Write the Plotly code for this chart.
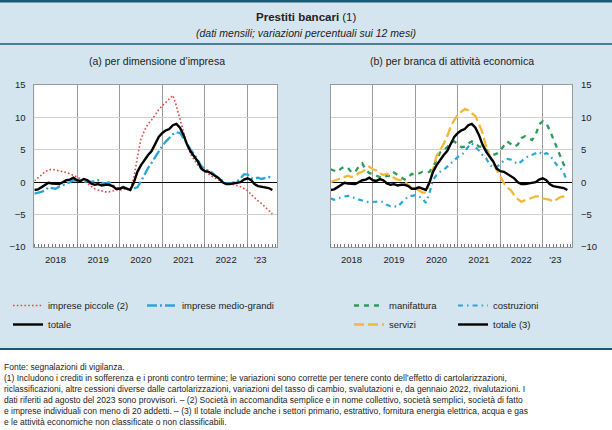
import pandas as pd
import plotly.graph_objects as go

# ---------------- data ----------------
months = pd.date_range("2018-01-01", periods=68, freq="MS")

small_firms = [0.2, 0.6, 1.1, 1.6, 1.9, 2.0, 1.9, 1.8, 1.6, 1.5, 1.3, 1.1,
               0.8, 0.5, 0.2, -0.2, -0.6, -1.0, -1.2, -1.4, -1.5, -1.5, -1.3, -1.2,
               -1.2, -1.1, -1.0, -1.1, 0.6, 3.8, 6.6, 8.0, 9.0, 9.6, 10.5, 11.2,
               11.8, 12.3, 12.8, 13.4, 11.8, 9.8, 7.5, 5.7, 4.3, 3.4, 2.6, 2.0,
               1.6, 1.2, 0.9, 0.6, 0.3, 0.0, -0.2, -0.2, -0.3, -0.5, -0.7, -1.0,
               -1.3, -1.9, -2.4, -2.9, -3.3, -3.8, -4.3, -4.9]

medium_large = [-1.75, -1.65, -1.5, -1.3, -0.8, -0.9, -1.0, -0.7, -0.5, -0.2, 0.0, 0.3,
                0.3, 0.2, 0.05, 0.15, 0.05, 0.2, 0.3, -0.1, -0.2, 0.0, -0.5, -0.8,
                -1.0, -0.7, -1.0, -1.1, -1.0, -0.8, 0.1, 1.2, 2.2, 3.0, 3.9, 4.9,
                5.6, 6.3, 6.9, 7.4, 7.7, 7.6, 6.8, 5.8, 5.0, 4.3, 3.4, 2.5,
                2.0, 1.8, 1.5, 1.0, 0.6, 0.1, -0.2, -0.2, -0.1, 0.1, 0.6, 1.2,
                1.2, 0.6, 0.6, 0.7, 0.5, 0.7, 0.8, 0.7]

total = [-1.2, -1.1, -0.8, -0.5, -0.1, -0.2, -0.3, -0.3, 0.0, 0.3, 0.4, 0.7,
         0.3, 0.2, 0.5, 0.3, -0.2, -0.4, -0.3, -0.5, -0.4, -0.4, -0.6, -1.0,
         -1.0, -0.8, -1.0, -1.2, -0.1, 1.6, 2.6, 3.5, 4.2, 4.8, 5.8, 7.0,
         7.6, 8.0, 8.2, 8.8, 9.0, 8.4, 7.3, 5.8, 4.7, 4.0, 3.2, 2.1,
         1.7, 1.6, 1.3, 1.0, 0.6, 0.0, -0.3, -0.3, -0.2, -0.2, 0.0, 0.4,
         0.6, 0.3, -0.3, -0.6, -0.7, -0.7, -0.9, -1.2]

manufacturing = [2.0, 1.8, 1.6, 2.1, 2.4, 2.2, 1.5, 1.6, 2.4, 2.9, 1.9, 1.4,
                 1.3, 1.0, 0.8, 0.6, 1.0, 0.9, 1.5, 1.1, 0.8, 0.4, 0.8, 1.3,
                 1.1, 1.3, 1.6, 1.5, 1.6, 2.3, 3.4, 4.6, 5.0, 5.4, 6.1, 6.3,
                 5.8, 5.4, 5.5, 6.0, 6.3, 6.0, 5.5, 5.5, 5.0, 4.5, 4.2, 4.4,
                 4.9, 5.6, 6.3, 5.9, 5.5, 5.8, 6.8, 7.1, 6.8, 6.5, 7.3, 8.9,
                 9.4, 9.1, 8.1, 6.8, 5.5, 4.0, 2.7, 2.3]

construction = [-2.5, -2.7, -2.5, -2.3, -2.2, -2.1, -2.2, -2.5, -2.7, -2.9, -3.0, -3.1,
                -3.1, -3.0, -2.9, -3.1, -3.5, -3.7, -3.7, -3.8, -3.2, -2.7, -2.2, -2.1,
                -2.0, -2.2, -2.5, -3.2, -1.7, 0.35, 1.1, 1.6, 1.9, 2.4, 2.9, 3.4,
                3.9, 4.2, 4.7, 5.5, 6.0, 5.4, 4.9, 4.2, 3.7, 2.7, 2.2, 2.3,
                2.9, 3.3, 3.6, 3.5, 3.2, 2.8, 3.2, 3.7, 4.0, 4.2, 4.5, 4.7,
                4.2, 4.5, 4.2, 3.5, 2.7, 2.2, 1.4, 0.1]

services = [0.0, 0.2, 0.4, 0.6, 0.8, 1.0, 0.8, 1.0, 1.4, 1.6, 2.0, 2.4,
            2.0, 1.8, 1.4, 1.1, 1.3, 1.0, 0.6, 0.4, 0.3, 0.1, -0.4, -0.9,
            -0.9, -1.2, -1.6, -1.6, -0.15, 1.9, 4.0, 5.0, 5.9, 7.1, 8.6, 9.6,
            10.4, 10.9, 11.3, 11.1, 10.7, 10.2, 9.0, 7.6, 5.5, 4.0, 2.9, 1.9,
            0.9, -0.15, -0.8, -1.2, -2.0, -2.6, -3.0, -2.8, -2.5, -2.3, -2.2, -2.2,
            -2.5, -2.6, -2.7, -3.0, -2.7, -2.3, -2.2, -2.3]

total_sector = list(total)

year_starts = ["2018-01-01", "2019-01-01", "2020-01-01", "2021-01-01", "2022-01-01", "2023-01-01"]
label_pos = ["2018-07-01", "2019-07-01", "2020-07-01", "2021-07-01", "2022-07-01", "2023-04-20"]
year_labels = ["2018", "2019", "2020", "2021", "2022", "'23"]
y_ticks = [-10, -5, 0, 5, 10, 15]

# ---------------- style ----------------
W, H = 612, 430
FONT = "Liberation Sans, Arial, sans-serif"
BG = "#d5e5ef"
DARK = "#1b5a76"
RED = "#dd4a45"
BLUE = "#2aa5d8"
GREEN = "#2f9b58"
YELLOW = "#f3b835"
GRIDV = "#9a9a9a"
GRIDH = "#cfcfcf"
TXT = "#222222"


def px(x):
    return x / W


def py(y):
    return 1 - y / H


XRANGE = ["2018-01-01", "2023-09-10"]
LEFT_DOM = [px(34.4), px(277)]
RIGHT_DOM = [px(330.5), px(572)]
Y_DOM = [py(247), py(85)]

fig = go.Figure()

# left panel
fig.add_trace(go.Scatter(x=months, y=small_firms, name="imprese piccole (2)", mode="lines",
                         line=dict(color=RED, width=1.6, dash="1.6px,2.2px"),
                         xaxis="x", yaxis="y", legend="legend"))
fig.add_trace(go.Scatter(x=months, y=medium_large, name="imprese medio-grandi", mode="lines",
                         line=dict(color=BLUE, width=2.3, dash="10px,3px,2px,3px"),
                         xaxis="x", yaxis="y", legend="legend2"))
fig.add_trace(go.Scatter(x=months, y=total, name="totale", mode="lines",
                         line=dict(color="black", width=2.4),
                         xaxis="x", yaxis="y", legend="legend"))
fig.add_trace(go.Scatter(x=months, y=total, mode="lines", opacity=0, showlegend=False,
                         hoverinfo="skip", line=dict(width=0), xaxis="x3", yaxis="y"))

# right panel
fig.add_trace(go.Scatter(x=months, y=manufacturing, name="manifattura", mode="lines",
                         line=dict(color=GREEN, width=2.3, dash="5px,5px"),
                         xaxis="x2", yaxis="y2", legend="legend3"))
fig.add_trace(go.Scatter(x=months, y=services, name="servizi", mode="lines",
                         line=dict(color=YELLOW, width=2.3, dash="10px,4px"),
                         xaxis="x2", yaxis="y2", legend="legend3"))
fig.add_trace(go.Scatter(x=months, y=construction, name="costruzioni", mode="lines",
                         line=dict(color=BLUE, width=2.2, dash="5px,4px,1.6px,4px"),
                         xaxis="x2", yaxis="y2", legend="legend4"))
fig.add_trace(go.Scatter(x=months, y=total_sector, name="totale (3)", mode="lines",
                         line=dict(color="black", width=2.4),
                         xaxis="x2", yaxis="y2", legend="legend4"))
fig.add_trace(go.Scatter(x=months, y=total_sector, mode="lines", opacity=0, showlegend=False,
                         hoverinfo="skip", line=dict(width=0), xaxis="x4", yaxis="y2"))

tickfont = dict(family=FONT, size=9.5, color=TXT)


def xbase(domain, anchor):
    return dict(type="date", domain=domain, anchor=anchor, range=XRANGE,
                tickmode="array", tickvals=year_starts, showticklabels=False,
                showgrid=True, gridcolor=GRIDV, gridwidth=1, ticks="",
                showline=True, linecolor=GRIDV, linewidth=1, mirror=True, zeroline=False,
                minor=dict(dtick="M1", tick0="2018-01-01", ticks="inside", ticklen=3,
                           tickcolor="#777777", tickwidth=1, showgrid=False))


def xlabels(domain, anchor, over):
    return dict(type="date", domain=domain, anchor=anchor, overlaying=over, range=XRANGE,
                tickmode="array", tickvals=label_pos, ticktext=year_labels,
                ticks="outside", ticklen=4, tickcolor="rgba(0,0,0,0)",
                showgrid=False, showline=False, zeroline=False, tickfont=tickfont)


def ybase(anchor, side):
    return dict(domain=Y_DOM, anchor=anchor, side=side, range=[-10, 15],
                tickmode="array", tickvals=y_ticks, showgrid=True, gridcolor=GRIDH,
                gridwidth=1, zeroline=True, zerolinecolor="black", zerolinewidth=1.2,
                showline=True, linecolor=GRIDV, linewidth=1, mirror=True,
                ticks="outside", ticklen=6, tickcolor="rgba(0,0,0,0)", tickfont=tickfont)


leg_common = dict(orientation="v", xanchor="left", yanchor="top", bgcolor="rgba(0,0,0,0)",
                  font=dict(family=FONT, size=9.5, color=TXT), tracegroupgap=0,
                  itemwidth=30)

footnote = ("Fonte: segnalazioni di vigilanza.<br>"
            "(1) Includono i crediti in sofferenza e i pronti contro termine; le variazioni sono corrette per tenere conto dell’effetto di cartolarizzazioni,<br>"
            "riclassificazioni, altre cessioni diverse dalle cartolarizzazioni, variazioni del tasso di cambio, svalutazioni e, da gennaio 2022, rivalutazioni. I<br>"
            "dati riferiti ad agosto del 2023 sono provvisori. – (2) Società in accomandita semplice e in nome collettivo, società semplici, società di fatto<br>"
            "e imprese individuali con meno di 20 addetti. – (3) Il totale include anche i settori primario, estrattivo, fornitura energia elettrica, acqua e gas<br>"
            "e le attività economiche non classificate o non classificabili.")

annotations = [
    dict(text="<b>Prestiti bancari</b> (1)", x=0.5, y=py(17.5), font=dict(family=FONT, size=11.5, color=TXT)),
    dict(text="<i>(dati mensili; variazioni percentuali sui 12 mesi)</i>", x=0.5, y=py(32.5),
         font=dict(family=FONT, size=10.5, color=TXT)),
    dict(text="(a) per dimensione d’impresa", x=px(157), y=py(61.5), font=dict(family=FONT, size=10.5, color=TXT)),
    dict(text="(b) per branca di attività economica", x=px(452), y=py(61.5), font=dict(family=FONT, size=10.5, color=TXT)),
    dict(text=footnote, x=px(2), y=py(360), xanchor="left", yanchor="top", align="left",
         font=dict(family=FONT, size=8.5, color=TXT)),
]
for a in annotations:
    a.setdefault("xref", "paper")
    a.setdefault("yref", "paper")
    a.setdefault("showarrow", False)
    a.setdefault("xanchor", "center")
    a.setdefault("yanchor", "middle")

shapes = [
    dict(type="rect", xref="paper", yref="paper", x0=0, x1=1, y0=0, y1=py(349),
         fillcolor="white", line=dict(width=0), layer="below"),
    dict(type="line", xref="paper", yref="paper", x0=0, x1=1, y0=py(1.2), y1=py(1.2),
         line=dict(color=DARK, width=2.5)),
    dict(type="line", xref="paper", yref="paper", x0=0, x1=1, y0=py(44), y1=py(44),
         line=dict(color=DARK, width=1.5)),
    dict(type="line", xref="paper", yref="paper", x0=0, x1=1, y0=py(349), y1=py(349),
         line=dict(color=DARK, width=2)),
]

fig.update_layout(
    width=W, height=H, margin=dict(l=0, r=0, t=0, b=0, autoexpand=False),
    paper_bgcolor=BG, plot_bgcolor="white", font=dict(family=FONT, color=TXT),
    xaxis=xbase(LEFT_DOM, "y"), xaxis3=xlabels(LEFT_DOM, "y", "x"),
    xaxis2=xbase(RIGHT_DOM, "y2"), xaxis4=xlabels(RIGHT_DOM, "y2", "x2"),
    yaxis=ybase("x", "left"), yaxis2=ybase("x2", "right"),
    legend=dict(x=px(8), y=py(291), **leg_common),
    legend2=dict(x=px(142), y=py(291), **leg_common),
    legend3=dict(x=px(349), y=py(291), **leg_common),
    legend4=dict(x=px(453), y=py(291), **leg_common),
    annotations=annotations, shapes=shapes, hovermode=False,
)

fig.write_html("out.html", config={"displayModeBar": False},
               post_script="document.body.style.margin='0';document.body.style.overflow='hidden';")
